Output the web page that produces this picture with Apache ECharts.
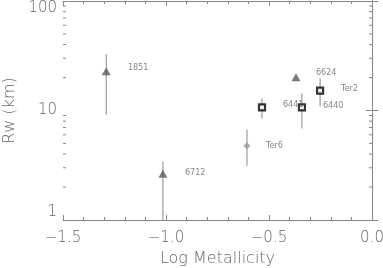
<!DOCTYPE html>
<html>
<head>
<meta charset="utf-8">
<script src="https://cdn.jsdelivr.net/npm/echarts@6/dist/echarts.min.js"></script>
<style>
html, body { margin: 0; padding: 0; background: #fff; }
#chart { width: 383px; height: 268px; }
</style>
</head>
<body>
<div id="chart"></div>
<script>
// triangles (dark grey)
var triX = [-1.29, -1.015, -0.369];
var triY = [22.8, 2.64, 20.1];
var triLo = [9.2, 1.0, null];
var triHi = [32.7, 3.4, null];

// open squares
var sqX = [-0.534, -0.34, -0.252];
var sqY = [10.7, 10.7, 15.2];
var sqLo = [8.45, 6.84, 10.9];
var sqHi = [12.9, 14.3, 19.7];

// diamond (Ter6)
var dmX = [-0.607];
var dmY = [4.77];
var dmLo = [3.13];
var dmHi = [6.7];

// cluster names and where they sit
var labelNames = ['1851', '6712', 'Ter6', '6441', '6624', 'Ter2', '6440'];
var labelX = [-1.185, -0.908, -0.515, -0.432, -0.272, -0.150, -0.238];
var labelY = [24.3, 2.70, 4.77, 11.3, 21.9, 15.9, 11.1];

var yMinorTicks = [2, 3, 4, 5, 6, 7, 8, 9, 20, 30, 40, 50, 60, 70, 80, 90];

var textColor = '#666';
var lineColor = '#888';
var font = 'DejaVu Sans';

function pts(xs, ys) {
    return xs.map(function (x, i) { return [x, ys[i]]; });
}
function bars(xs, lo, hi) {
    var out = [];
    xs.forEach(function (x, i) {
        if (lo[i] != null) out.push([x, lo[i], hi[i]]);
    });
    return out;
}

var errData = bars(triX, triLo, triHi)
    .concat(bars(sqX, sqLo, sqHi))
    .concat(bars(dmX, dmLo, dmHi));

var chart = echarts.init(document.getElementById('chart'));
chart.setOption({
    animation: false,
    grid: { left: 63, right: 11, top: 1, bottom: 48, outerBoundsMode: 'none', containLabel: false },
    xAxis: [
        {
            type: 'value', min: -1.5, max: 0, interval: 0.5,
            name: 'Log Metallicity', nameLocation: 'middle', nameGap: 31,
            nameTextStyle: { color: textColor, fontSize: 16, fontWeight: 200, fontFamily: font },
            axisLine: { lineStyle: { color: lineColor } },
            axisTick: { inside: true, length: 5, lineStyle: { color: lineColor } },
            minorTick: { show: true, splitNumber: 5, length: 3, lineStyle: { color: lineColor } },
            splitLine: { show: false },
            axisLabel: {
                color: textColor, fontSize: 15, fontWeight: 200, fontFamily: font, margin: 11,
                formatter: function (v) { return (v < 0 ? '\u2212' : '') + Math.abs(v).toFixed(1); }
            }
        },
        {
            type: 'value', position: 'top', min: -1.5, max: 0, interval: 0.5,
            axisLine: { show: true, lineStyle: { color: lineColor } },
            axisTick: { inside: true, length: 5, lineStyle: { color: lineColor } },
            minorTick: { show: true, splitNumber: 5, length: 3, lineStyle: { color: lineColor } },
            axisLabel: { show: false }, splitLine: { show: false }
        }
    ],
    yAxis: [
        {
            type: 'log', min: 1, max: 100, logBase: 10,
            name: 'Rw (km)', nameLocation: 'middle', nameGap: 45,
            nameTextStyle: { color: textColor, fontSize: 16, fontWeight: 200, fontFamily: font },
            axisLine: { show: true, lineStyle: { color: lineColor } },
            axisTick: { show: true, inside: true, length: 6, lineStyle: { color: lineColor } },
            splitLine: { show: false },
            axisLabel: {
                color: textColor, fontSize: 15, fontWeight: 200, fontFamily: font, margin: 6,
                verticalAlignMinLabel: 'bottom', verticalAlignMaxLabel: 'top'
            }
        },
        {
            type: 'log', position: 'right', min: 1, max: 100, logBase: 10,
            axisLine: { show: true, lineStyle: { color: lineColor } },
            axisTick: { show: true, inside: true, length: 6, lineStyle: { color: lineColor } },
            axisLabel: { show: false }, splitLine: { show: false }
        }
    ],
    series: [
        {
            name: 'minor y ticks', type: 'custom', silent: true, z: 1,
            data: yMinorTicks.map(function (v) { return [-1.5, v]; }),
            renderItem: function (params, api) {
                var l = api.coord([-1.5, api.value(1)]);
                var r = api.coord([0, api.value(1)]);
                var st = { stroke: lineColor, lineWidth: 1 };
                return {
                    type: 'group', children: [
                        { type: 'line', shape: { x1: l[0], y1: l[1], x2: l[0] + 3, y2: l[1] }, style: st },
                        { type: 'line', shape: { x1: r[0], y1: r[1], x2: r[0] - 3, y2: r[1] }, style: st }
                    ]
                };
            }
        },
        {
            name: 'errors', type: 'custom', silent: true, z: 2,
            data: errData,
            encode: { x: 0, y: [1, 2] },
            renderItem: function (params, api) {
                var a = api.coord([api.value(0), api.value(1)]);
                var b = api.coord([api.value(0), api.value(2)]);
                return {
                    type: 'line',
                    shape: { x1: a[0], y1: a[1], x2: b[0], y2: b[1] },
                    style: { stroke: lineColor, lineWidth: 1 }
                };
            }
        },
        {
            name: 'triangles', type: 'scatter', z: 3,
            data: pts(triX, triY),
            symbol: 'triangle', symbolSize: [9, 8],
            itemStyle: { color: '#5a5a5a' }
        },
        {
            name: 'squares', type: 'scatter', z: 3,
            data: pts(sqX, sqY),
            symbol: 'rect', symbolSize: 6,
            itemStyle: { color: '#fff', borderColor: '#000', borderWidth: 2.2 }
        },
        {
            name: 'diamond', type: 'scatter', z: 3,
            data: pts(dmX, dmY),
            symbol: 'diamond', symbolSize: 7,
            itemStyle: { color: '#999' }
        },
        {
            name: 'labels', type: 'scatter', z: 4, silent: true,
            symbolSize: 0,
            data: labelNames.map(function (n, i) { return { name: n, value: [labelX[i], labelY[i]] }; }),
            label: {
                show: true, position: [0, 0], align: 'left', verticalAlign: 'middle',
                formatter: function (p) { return p.name; },
                color: textColor, fontSize: 8, fontFamily: font
            }
        }
    ]
});
</script>
</body>
</html>
